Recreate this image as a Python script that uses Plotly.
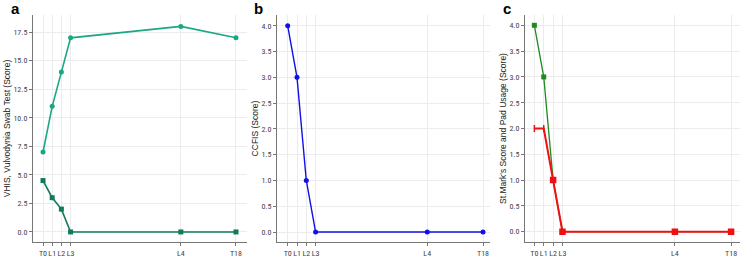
import plotly.graph_objects as go

tick_labels = ["T0", "L1", "L2", "L3", "L4", "T18"]
x_pos = [0, 1, 2, 3, 15, 21]

vhis = [7, 11, 14, 17, 18, 17]
swab = [4.5, 3, 2, 0, 0, 0]
ccfis = [4, 3, 1, 0, 0, 0]
stmark = [4, 3, 1, 0, 0, 0]
pad = [2, 2, 1, 0, 0, 0]

fig = go.Figure()

fig.add_trace(go.Scatter(x=x_pos, y=vhis, mode="lines+markers", xaxis="x", yaxis="y",
                         line=dict(color="#1aa784", width=1.6),
                         marker=dict(symbol="circle", size=5, color="#1aa784")))
fig.add_trace(go.Scatter(x=x_pos, y=swab, mode="lines+markers", xaxis="x", yaxis="y",
                         line=dict(color="#0f7b5c", width=1.6),
                         marker=dict(symbol="square", size=5, color="#0f7b5c")))
fig.add_trace(go.Scatter(x=x_pos, y=ccfis, mode="lines+markers", xaxis="x2", yaxis="y2",
                         line=dict(color="#1010e8", width=1.4),
                         marker=dict(symbol="circle", size=5, color="#1010e8")))
fig.add_trace(go.Scatter(x=x_pos, y=stmark, mode="lines+markers", xaxis="x3", yaxis="y3",
                         line=dict(color="#1f8a1f", width=1.3),
                         marker=dict(symbol="square", size=5, color="#1f8a1f")))
fig.add_trace(go.Scatter(x=x_pos, y=pad, mode="lines+markers", xaxis="x3", yaxis="y3",
                         line=dict(color="#ee1111", width=2),
                         marker=dict(symbol=["line-ns", "line-ns", "square", "square", "square", "square"],
                                     size=5, color="#ee1111",
                                     line=dict(color="#ee1111", width=1.5))))

ydom = [1 - 242 / 261, 1 - 15 / 261]
tickfont = dict(family="Roboto Condensed, Liberation Sans Narrow, Arial", size=8, color="#444")
titlefont = dict(family="Liberation Sans, Arial", size=8.5, color="#222")

def xaxis(dom, rng):
    return dict(domain=dom, range=rng, tickmode="array", tickvals=x_pos, ticktext=tick_labels,
                tickangle=0,
                showgrid=True, gridcolor="#ececec", gridwidth=1, zeroline=False,
                showline=True, linecolor="#777", linewidth=1, ticks="outside", ticklen=3,
                tickcolor="#777", tickfont=tickfont)

def yaxis(rng, dtick, title):
    return dict(domain=ydom, range=rng, dtick=dtick, tick0=0, tickformat=".1f",
                showgrid=True, gridcolor="#ececec", gridwidth=1, zeroline=False,
                showline=True, linecolor="#777", linewidth=1, ticks="outside", ticklen=3,
                tickcolor="#777", tickfont=tickfont,
                title=dict(text=title, font=titlefont, standoff=1))

xa1 = xaxis([33 / 750, 247 / 750], [-1.09, 22.2]); xa1["anchor"] = "y"
xa2 = xaxis([277 / 750, 490 / 750], [-1.15, 21.75]); xa2["anchor"] = "y2"
xa3 = xaxis([525 / 750, 740 / 750], [-1.0, 21.95]); xa3["anchor"] = "y3"
ya1 = yaxis([-0.88, 19.0], 2.5, "VHIS, Vulvodynia Swab Test (Score)"); ya1["anchor"] = "x"
ya2 = yaxis([-0.194, 4.21], 0.5, "CCFIS (Score)"); ya2["anchor"] = "x2"
ya3 = yaxis([-0.2, 4.2], 0.5, "St.Mark's Score and Pad Usage (Score)"); ya3["anchor"] = "x3"

panel_labels = ["a", "b", "c"]
label_pos = [(15, 9), (258, 9), (507, 9)]

ann = []
for t, (px, py) in zip(panel_labels, label_pos):
    ann.append(dict(text="<b>" + t + "</b>", x=px / 750, y=1 - py / 261, xref="paper", yref="paper",
                    xanchor="center", yanchor="middle",
                    showarrow=False, font=dict(family="Liberation Sans, Arial", size=15, color="black")))

fig.update_layout(
    width=750, height=261, showlegend=False,
    margin=dict(l=0, r=0, t=0, b=0),
    paper_bgcolor="white", plot_bgcolor="white",
    xaxis=xa1, xaxis2=xa2, xaxis3=xa3,
    yaxis=ya1, yaxis2=ya2, yaxis3=ya3,
    annotations=ann,
)

fig.write_html("out.html", config={"displayModeBar": False},
               post_script="document.body.style.margin='0';document.body.style.padding='0';")
